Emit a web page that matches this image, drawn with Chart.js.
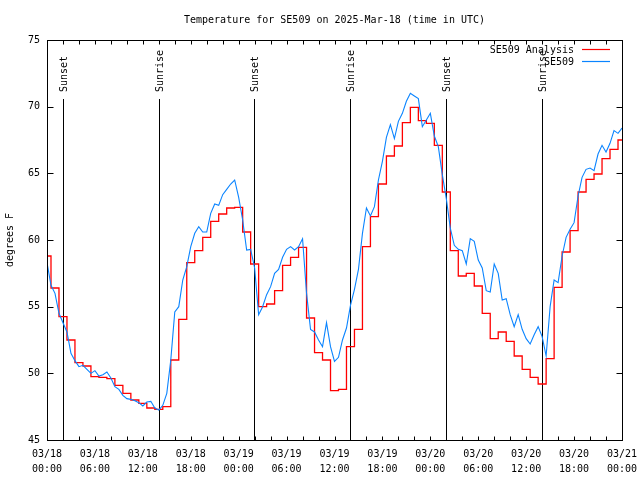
<!DOCTYPE html>
<html><head><meta charset="utf-8">
<script src="https://cdn.jsdelivr.net/npm/chart.js@4.4.1/dist/chart.umd.min.js"></script>
<style>html,body{margin:0;padding:0;background:#fff;}</style>
</head><body>
<canvas id="c" width="640" height="480"></canvas>
<script>
const titleText = 'Temperature for SE509 on 2025-Mar-18 (time in UTC)';
const yAxisLabel = 'degrees F';
const analysisName = 'SE509 Analysis';
const obsName = 'SE509';

// x axis in hours since 03/18 00:00 UTC
const xTickHours = [0,6,12,18,24,30,36,42,48,54,60,66,72];
const xTickLabels = [['03/18','00:00'],['03/18','06:00'],['03/18','12:00'],['03/18','18:00'],
  ['03/19','00:00'],['03/19','06:00'],['03/19','12:00'],['03/19','18:00'],
  ['03/20','00:00'],['03/20','06:00'],['03/20','12:00'],['03/20','18:00'],['03/21','00:00']];
const xMinorHours = [2,4,8,10,14,16,20,22,26,28,32,34,38,40,44,46,50,52,56,58,62,64,68,70];
const yTicks = [45,50,55,60,65,70,75];

const sunTimes = [2.03,14.05,25.95,37.98,50.0,62.02];
const sunLabels = ['Sunset','Sunrise','Sunset','Sunrise','Sunset','Sunrise'];

const analysisTimes = [0,0.5,1.5,2.5,3.5,4.5,5.5,6.5,7.5,8.5,9.5,10.5,11.5,12.5,13.5,14.5,15.5,16.5,17.5,18.5,19.5,20.5,21.5,22.5,23.5,24.5,25.5,26.5,27.5,28.5,29.5,30.5,31.5,32.5,33.5,34.5,35.5,36.5,37.5,38.5,39.5,40.5,41.5,42.5,43.5,44.5,45.5,46.5,47.5,48.5,49.5,50.5,51.5,52.5,53.5,54.5,55.5,56.5,57.5,58.5,59.5,60.5,61.5,62.5,63.5,64.5,65.5,66.5,67.5,68.5,69.5,70.5,71.5,72];
const analysisValues = [58.8,56.4,54.25,52.5,50.8,50.55,49.75,49.7,49.6,49.1,
  48.5,48.0,47.75,47.4,47.3,47.5,51.0,54.05,58.3,59.2,
  60.2,61.4,61.95,62.4,62.45,60.6,58.2,55.0,55.2,56.2,
  58.1,58.7,59.45,54.15,51.55,51.0,48.7,48.8,52.0,53.3,
  59.5,61.75,64.2,66.3,67.05,68.8,69.95,68.95,68.75,67.1,
  63.6,59.2,57.3,57.5,56.55,54.5,52.6,53.1,52.4,51.3,
  50.3,49.7,49.2,51.1,56.45,59.1,60.7,63.6,64.55,64.95,
  66.1,66.8,67.5,67.5];

// observations every half hour
const obsValues = [58.3,56.6,56.0,54.5,53.8,53.1,51.5,50.95,50.5,50.6,
  50.3,50.0,50.2,49.8,49.9,50.1,49.65,49.0,48.8,48.35,
  48.1,48.05,47.95,47.8,47.55,47.85,47.9,47.4,47.25,47.6,
  48.5,51.0,54.6,55.0,57.0,58.0,59.5,60.5,61.0,60.6,
  60.6,62.0,62.7,62.6,63.4,63.8,64.2,64.5,63.2,61.5,
  59.25,59.3,57.9,54.4,55.0,55.9,56.5,57.5,57.8,58.7,
  59.3,59.5,59.25,59.5,60.1,56.0,53.3,53.1,52.5,52.0,
  53.8,52.0,50.9,51.2,52.5,53.4,55.1,56.3,57.8,60.5,
  62.4,61.8,62.5,64.5,65.9,67.7,68.65,67.6,68.9,69.5,
  70.4,71.0,70.8,70.6,68.5,69.0,69.5,67.8,67.0,64.9,
  63.1,60.9,59.6,59.3,59.2,58.2,60.1,59.9,58.5,57.9,
  56.2,56.1,58.2,57.5,55.5,55.6,54.4,53.5,54.4,53.3,
  52.6,52.2,52.9,53.5,52.75,51.3,55.0,57.0,56.8,58.8,
  60.2,60.8,61.3,63.3,64.7,65.3,65.4,65.2,66.45,67.1,
  66.6,67.25,68.2,68.0,68.4];
const obsTimes = obsValues.map((_, i) => i * 0.5);

const FONT = '10px "DejaVu Sans Mono"';
const RED = '#ff0000';
const BLUE = '#0a84ff';

const decor = {
  id: 'decor',
  beforeDatasetsDraw(chart) {
    const {ctx, chartArea: a, scales: {x}} = chart;
    ctx.save();
    ctx.strokeStyle = '#000';
    ctx.lineWidth = 1;
    sunTimes.forEach(t => {
      const px = Math.round(x.getPixelForValue(t)) + 0.5;
      ctx.beginPath();
      ctx.moveTo(px, a.top + 59);
      ctx.lineTo(px, a.bottom);
      ctx.stroke();
    });
    ctx.restore();
  },
  afterDraw(chart) {
    const {ctx, chartArea: a, scales: {x, y}} = chart;
    ctx.save();
    ctx.strokeStyle = '#000';
    ctx.lineWidth = 1;
    const L = Math.round(a.left) + 0.5, R = Math.round(a.right) + 0.5;
    const T = Math.round(a.top) + 0.5, B = Math.round(a.bottom) + 0.5;
    ctx.strokeRect(L, T, R - L, B - T);
    ctx.beginPath();
    xTickHours.concat(xMinorHours).forEach(h => {
      const px = Math.round(x.getPixelForValue(h)) + 0.5;
      ctx.moveTo(px, B); ctx.lineTo(px, B - 4);
      ctx.moveTo(px, T); ctx.lineTo(px, T + 4);
    });
    yTicks.forEach(v => {
      const py = Math.round(y.getPixelForValue(v)) + 0.5;
      ctx.moveTo(L, py); ctx.lineTo(L + 6, py);
      ctx.moveTo(R, py); ctx.lineTo(R - 6, py);
    });
    ctx.stroke();

    ctx.fillStyle = '#000';
    ctx.font = FONT;
    // title
    ctx.textAlign = 'center';
    ctx.textBaseline = 'middle';
    ctx.fillText(titleText, (a.left + a.right) / 2, 20);
    // y axis title
    ctx.save();
    ctx.translate(10, (a.top + a.bottom) / 2);
    ctx.rotate(-Math.PI / 2);
    ctx.fillText(yAxisLabel, 0, 0);
    ctx.restore();
    // sun labels
    sunTimes.forEach((t, i) => {
      const px = Math.round(x.getPixelForValue(t)) + 1;
      ctx.save();
      ctx.translate(px, a.top + 52);
      ctx.rotate(-Math.PI / 2);
      ctx.textAlign = 'left';
      ctx.textBaseline = 'middle';
      ctx.fillText(sunLabels[i], 0, 0);
      ctx.restore();
    });
    // legend
    const ds = chart.data.datasets;
    const rows = [ds[1], ds[0]];
    rows.forEach((d, i) => {
      const ly = a.top + 10 + i * 12;
      ctx.textAlign = 'right';
      ctx.textBaseline = 'middle';
      ctx.fillStyle = '#000';
      ctx.fillText(d.label, a.right - 48, ly);
      ctx.strokeStyle = d.borderColor;
      ctx.lineWidth = 1.2;
      ctx.beginPath();
      ctx.moveTo(a.right - 40, Math.round(ly) - 0.5);
      ctx.lineTo(a.right - 12, Math.round(ly) - 0.5);
      ctx.stroke();
    });
    ctx.restore();
  }
};

new Chart(document.getElementById('c'), {
  type: 'line',
  data: {
    datasets: [
      {
        label: obsName,
        data: obsTimes.map((t, i) => ({x: t, y: obsValues[i]})),
        borderColor: BLUE, borderWidth: 1.1, pointRadius: 0, tension: 0, fill: false, order: 1
      },
      {
        label: analysisName,
        data: analysisTimes.map((t, i) => ({x: t, y: analysisValues[i]})),
        borderColor: RED, borderWidth: 1.3, pointRadius: 0, stepped: true, fill: false, order: 2
      }
    ]
  },
  options: {
    responsive: false,
    animation: false,
    devicePixelRatio: 1,
    layout: {padding: {left: 0, right: 18, top: 40, bottom: 0}},
    plugins: {legend: {display: false}, title: {display: false}, tooltip: {enabled: false}},
    scales: {
      x: {
        type: 'linear', min: 0, max: 72,
        afterBuildTicks: s => { s.ticks = xTickHours.map(v => ({value: v})); },
        ticks: {
          autoSkip: false, maxRotation: 0, minRotation: 0, padding: 7, color: '#000',
          font: {family: 'DejaVu Sans Mono', size: 10, lineHeight: 1.5},
          callback: (v, i) => xTickLabels[i]
        },
        grid: {display: false, drawTicks: false},
        border: {display: false},
        afterFit: s => { s.height = 40; s.paddingLeft = 0; s.paddingRight = 0; }
      },
      y: {
        min: 45, max: 75,
        afterBuildTicks: s => { s.ticks = yTicks.map(v => ({value: v})); },
        ticks: {
          padding: 7, color: '#000',
          font: {family: 'DejaVu Sans Mono', size: 10},
          callback: v => String(v)
        },
        grid: {display: false, drawTicks: false},
        border: {display: false},
        afterFit: s => { s.width = 47; s.paddingTop = 0; s.paddingBottom = 0; }
      }
    }
  },
  plugins: [decor]
});
</script>
</body></html>
